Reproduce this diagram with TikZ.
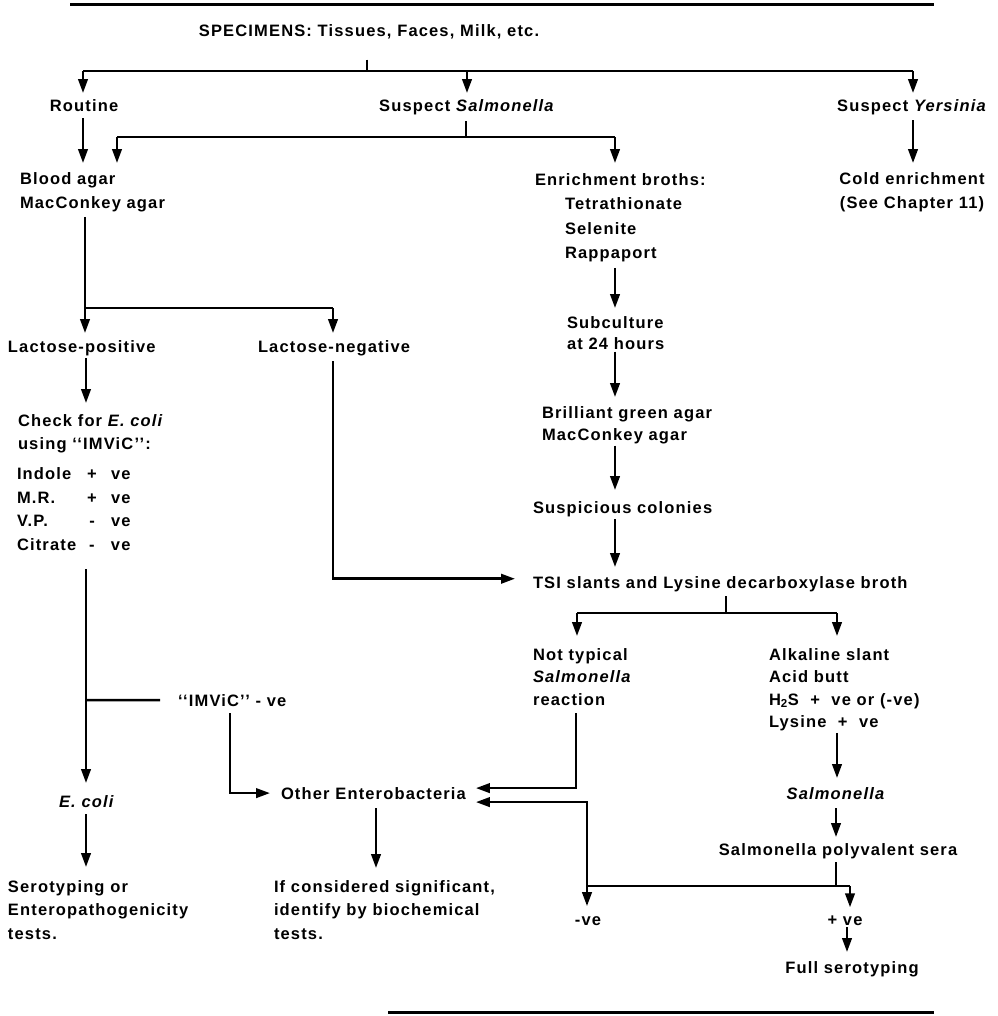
\documentclass[tikz,border=0pt]{standalone}
\usepackage{fontspec}
\setmainfont{Liberation Sans}[LetterSpace=7]
\usetikzlibrary{arrows.meta,calc}
\newcommand\dfont{\fontsize{16.5}{23.5}\selectfont\bfseries}
\begin{document}
\begin{tikzpicture}[x=1pt,y=-1pt,
  t/.style={inner sep=0pt,outer sep=0pt,font=\dfont},
  ln/.style={line width=2.5pt},
  rule/.style={line width=3pt},
  arr/.style={line width=2.5pt,-{Triangle[length=14pt,width=9.5pt]}}]
\useasboundingbox (0,0) rectangle (997,1016);

% rules
\coordinate (r1a) at (70,5); \coordinate (r1b) at (934,5);
\coordinate (r2a) at (388,1012); \coordinate (r2b) at (934,1012);
\draw[rule] (r1a) -- (r1b);
\draw[rule] (r2a) -- (r2b);

% nodes (base anchor = baseline of the last line)
\node[t,anchor=base] (spec) at (369,37) {SPECIMENS: Tissues, Faces, Milk, etc.};
\node[t,anchor=base] (routine) at (84,112) {Routine};
\node[t,anchor=base] (ssal) at (467,112) {Suspect \textit{Salmonella}};
\node[t,anchor=base] (syer) at (912,112) {Suspect \textit{Yersinia}};
\node[t,anchor=base west,align=left] (blood) at (20,208.5) {Blood agar\\MacConkey agar};
\node[t,anchor=base west,align=left] (enr) at (535,258.5) {Enrichment broths:\\[1pt]\hspace*{30pt}Tetrathionate\\[1pt]\hspace*{30pt}Selenite\\[1pt]\hspace*{30pt}Rappaport};
\node[t,anchor=base,align=center] (cold) at (912,208.5) {Cold enrichment\\(See Chapter 11)};
\node[t,anchor=base west] (lpos) at (8,352) {Lactose-positive};
\node[t,anchor=base west] (lneg) at (258,352) {Lactose-negative};
\node[t,anchor=base west,align=left] (check) at (18,449) {Check for \textit{E. coli}\\[-0.5pt]using `{}`IMViC'{}':};
\node[t,anchor=base west,align=left] (tests) at (17,550) {%
\makebox[66pt][l]{Indole}\makebox[18pt]{+}\hspace{10pt}ve\\
\makebox[66pt][l]{M.R.}\makebox[18pt]{+}\hspace{10pt}ve\\
\makebox[66pt][l]{V.P.}\makebox[18pt]{-}\hspace{10pt}ve\\
\makebox[66pt][l]{Citrate}\makebox[18pt]{-}\hspace{10pt}ve};
\node[t,anchor=base west] (imneg) at (178,706) {`{}`IMViC'{}' - ve};
\node[t,anchor=base] (ecoli) at (87,807) {\textit{E. coli}};
\node[t,anchor=base west] (other) at (281,799) {Other Enterobacteria};
\node[t,anchor=base west,align=left] (sero) at (8,939) {Serotyping or\\Enteropathogenicity\\tests.};
\node[t,anchor=base west,align=left] (ifsig) at (274,939) {If considered significant,\\identify by biochemical\\tests.};
\node[t,anchor=base west,align=left] (subc) at (567,349.5) {Subculture\\[-2pt]at 24 hours};
\node[t,anchor=base west,align=left] (brill) at (542,440) {Brilliant green agar\\[-1.5pt]MacConkey agar};
\node[t,anchor=base west] (susp) at (533,513) {Suspicious colonies};
\node[t,anchor=base west] (tsi) at (533,588) {TSI slants and Lysine decarboxylase broth};
\node[t,anchor=base west,align=left] (nottyp) at (533,705) {Not typical\\[-1pt]\textit{Salmonella}\\[-1pt]reaction};
\node[t,anchor=base west,align=left] (alk) at (769,727.5) {Alkaline slant\\[-1pt]Acid butt\\[-1pt]H\textsubscript{2}S\ \ +\ \ ve or (-ve)\\[-1pt]Lysine\ \ +\ \ ve};
\node[t,anchor=base] (salm) at (836,799) {\textit{Salmonella}};
\node[t,anchor=base] (sera) at (838,855) {Salmonella polyvalent sera};
\node[t,anchor=base] (neg) at (588,925) {-ve};
\node[t,anchor=base] (pos) at (845,925) {+ ve};
\node[t,anchor=base] (full) at (852,973) {Full serotyping};

% junction coordinates
\coordinate (b0) at (367,71);
\coordinate (bL) at (83,71);
\coordinate (bM) at (467,71);
\coordinate (bR) at (913,71);
\coordinate (b1) at (466,137);
\coordinate (b1L) at (117,137);
\coordinate (b1R) at (615,137);
\coordinate (b2) at (85,308);
\coordinate (b2R) at (333,308);
\coordinate (k1) at (86,700);
\coordinate (b3) at (726,613);
\coordinate (b3L) at (577,613);
\coordinate (b3R) at (837,613);
\coordinate (b4) at (836,886);
\coordinate (b4L) at (587,886);
\coordinate (b4R) at (850,886);

% top level
\draw[ln,shorten <=20pt] (spec.south -| b0) -- (b0);
\draw[ln] (bL) -- (bR);
\draw[arr,shorten >=7pt] (bL) -- (bL |- routine.north);
\draw[arr,shorten >=7pt] (bM) -- (bM |- ssal.north);
\draw[arr,shorten >=7pt] (bR) -- (bR |- syer.north);

% second level
\draw[arr,shorten <=6pt,shorten >=10pt] (routine.south -| bL) -- (bL |- blood.north);
\draw[ln,shorten <=6pt] (ssal.south -| b1) -- (b1);
\draw[ln] (b1L) -- (b1R);
\draw[arr,shorten >=10pt] (b1L) -- (b1L |- blood.north);
\draw[arr,shorten >=10pt] (b1R) -- (b1R |- enr.north);
\draw[arr,shorten <=5pt,shorten >=10pt] (syer.south -| bR) -- (bR |- cold.north);

% left column
\draw[ln,shorten <=5pt] (blood.south -| b2) -- (b2);
\draw[ln] (b2) -- (b2R);
\draw[arr,shorten >=7pt] (b2) -- (b2 |- lpos.north);
\draw[arr,shorten >=7pt] (b2R) -- (b2R |- lneg.north);
\draw[arr,shorten <=3pt,shorten >=11pt] (lpos.south -| 86,0) -- (86,0 |- check.north);
\draw[arr,shorten <=6pt,shorten >=18pt] (lneg.south -| b2R) |- ([yshift=5pt]tsi.west);
\draw[arr,shorten <=19pt,shorten >=12pt] (tests.south -| k1) -- (k1 |- ecoli.north);
\draw[ln,shorten >=18pt] (k1) -- (imneg.west);
\draw[arr,shorten <=7pt,shorten >=11pt] (imneg.south -| 230,0) |- (other.west);
\draw[arr,shorten <=7pt,shorten >=13pt] (ecoli.south -| k1) -- (k1 |- sero.north);
\draw[arr,shorten <=9pt,shorten >=12pt] (other.south -| 376,0) -- (376,0 |- ifsig.north);

% right column
\draw[arr,shorten <=6pt,shorten >=8pt] (enr.south -| b1R) -- (b1R |- subc.north);
\draw[arr,shorten <=2pt,shorten >=9pt] (subc.south -| b1R) -- (b1R |- brill.north);
\draw[arr,shorten <=2pt,shorten >=11pt] (brill.south -| b1R) -- (b1R |- susp.north);
\draw[arr,shorten <=3pt,shorten >=9pt] (susp.south -| b1R) -- (b1R |- tsi.north);
\draw[ln,shorten <=5pt] (tsi.south -| b3) -- (b3);
\draw[ln] (b3L) -- (b3R);
\draw[arr,shorten >=12pt] (b3L) -- (b3L |- nottyp.north);
\draw[arr,shorten >=12pt] (b3R) -- (b3R |- alk.north);
\draw[arr,shorten <=8pt,shorten >=10pt] (nottyp.south -| 576,0) |- ([yshift=5pt]other.east);
\draw[arr,shorten <=2pt,shorten >=9pt] (alk.south -| b3R) -- (b3R |- salm.north);
\draw[arr,shorten <=9pt,shorten >=6pt] (salm.south -| b4) -- (b4 |- sera.north);
\draw[ln,shorten <=4pt] (sera.south -| b4) -- (b4);
\draw[ln] (b4L) -- (b4R);
\draw[arr,shorten >=10pt] (b4L) |- ([yshift=-9pt]other.east);
\draw[arr,shorten >=10pt] (b4L) -- (b4L |- neg.north);
\draw[arr,shorten >=8pt] (b4R) -- (b4R |- pos.north);
\draw[arr,shorten <=2pt,shorten >=9pt] (pos.south -| 847,0) -- (847,0 |- full.north);
\end{tikzpicture}
\end{document}
